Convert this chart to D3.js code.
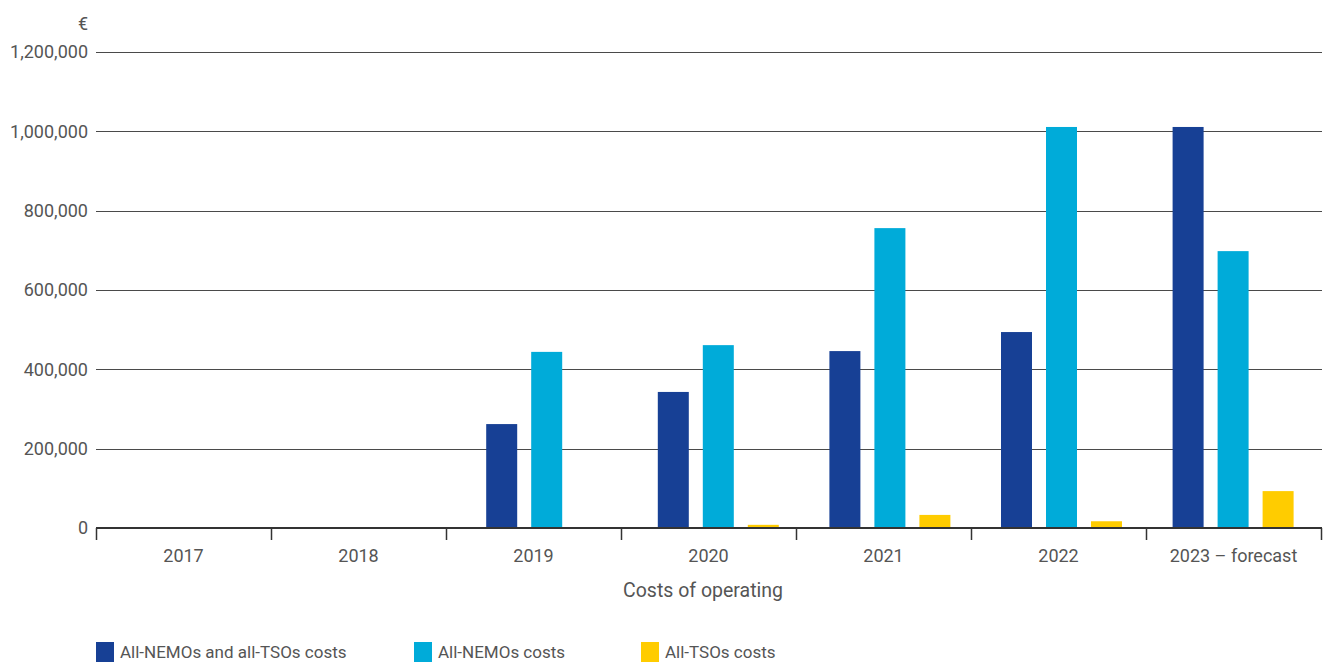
<!DOCTYPE html>
<html>
<head>
<meta charset="utf-8">
<script src="https://cdn.jsdelivr.net/npm/d3@7"></script>
<style>
  html, body { margin: 0; padding: 0; background: #fff; }
  svg { display: block; font-family: Roboto, "Noto Sans", sans-serif; }
</style>
</head>
<body>
<svg id="chart" width="1326" height="662"></svg>
<script>
// Yearly costs of operating, in euro
const years = ["2017", "2018", "2019", "2020", "2021", "2022", "2023 – forecast"];
const seriesNames = ["All-NEMOs and all-TSOs costs", "All-NEMOs costs", "All-TSOs costs"];
const jointCosts = [0, 0, 262000, 343000, 446000, 494000, 1011000];
const nemoCosts  = [0, 0, 444000, 461000, 756000, 1011000, 698000];
const tsoCosts   = [0, 0, 0, 8000, 33000, 17000, 93000];
const yTicks = [0, 200000, 400000, 600000, 800000, 1000000, 1200000];
const colors = ["#174095", "#00abd9", "#ffcc00"];

const svg = d3.select("#chart");
const margin = { left: 96, right: 1322, top: 52, bottom: 528 };

const x = d3.scaleBand().domain(years).range([margin.left, 1321]).padding(0);
// bar groups sit on their own slightly narrower band
const xGroup = d3.scaleBand().domain(years).range([143, 143 + 7 * 171.6 - 50.6]).paddingInner(50.6 / 171.6).paddingOuter(0);
const xInner = d3.scaleBand().domain(seriesNames).range([0, xGroup.bandwidth()]).paddingInner(14 / 45);
const y = d3.scaleLinear().domain([0, 1200000]).range([margin.bottom, margin.top]);

const fmt = d3.format(",");

// horizontal gridlines
svg.append("g")
  .selectAll("line")
  .data(yTicks.filter(d => d > 0))
  .join("line")
  .attr("x1", margin.left).attr("x2", margin.right)
  .attr("y1", d => Math.round(y(d)) + 0.5).attr("y2", d => Math.round(y(d)) + 0.5)
  .attr("stroke", "#4a4a4a").attr("stroke-width", 1);

// y tick labels
svg.append("g")
  .selectAll("text")
  .data(yTicks)
  .join("text")
  .attr("x", 88).attr("y", d => y(d))
  .attr("dy", "0.35em")
  .attr("text-anchor", "end")
  .attr("fill", "#555")
  .style("font-size", "18px")
  .text(d => fmt(d));

svg.append("text")
  .attr("x", 88).attr("y", 24).attr("dy", "0.35em")
  .attr("text-anchor", "end").attr("fill", "#555")
  .style("font-size", "18px")
  .text("€");

// bars
const rows = years.map((yr, i) => ({ year: yr, values: [jointCosts[i], nemoCosts[i], tsoCosts[i]] }));
const groups = svg.append("g").selectAll("g")
  .data(rows).join("g")
  .attr("transform", d => `translate(${xGroup(d.year)},0)`);
groups.selectAll("rect")
  .data(d => d.values.map((v, k) => ({ name: seriesNames[k], value: v, k })))
  .join("rect")
  .filter(d => d.value > 0)
  .attr("x", d => xInner(d.name))
  .attr("width", xInner.bandwidth())
  .attr("y", d => y(d.value))
  .attr("height", d => y(0) - y(d.value))
  .attr("fill", d => colors[d.k]);

// x axis
const xAxis = svg.append("g").attr("transform", `translate(0,${margin.bottom})`);
xAxis.append("line")
  .attr("x1", margin.left).attr("x2", margin.right)
  .attr("y1", 0).attr("y2", 0)
  .attr("stroke", "#333").attr("stroke-width", 2);
const tickPos = years.map(d => x(d)).concat([x.range()[1]]);
xAxis.selectAll("line.tick")
  .data(tickPos).join("line").attr("class", "tick")
  .attr("x1", d => Math.round(d) + 0.5).attr("x2", d => Math.round(d) + 0.5)
  .attr("y1", 0).attr("y2", 12)
  .attr("stroke", "#333").attr("stroke-width", 1.5);
xAxis.selectAll("text")
  .data(years).join("text")
  .attr("x", d => x(d) + x.bandwidth() / 2)
  .attr("y", 28).attr("dy", "0.35em")
  .attr("text-anchor", "middle").attr("fill", "#555")
  .style("font-size", "18px")
  .text(d => d);

svg.append("text")
  .attr("x", 703).attr("y", 590).attr("dy", "0.35em")
  .attr("text-anchor", "middle").attr("fill", "#555")
  .style("font-size", "19.5px")
  .text("Costs of operating");

// legend
const legendX = [96, 414, 641];
const legend = svg.append("g").selectAll("g")
  .data(seriesNames).join("g")
  .attr("transform", (d, i) => `translate(${legendX[i]},642)`);
legend.append("rect")
  .attr("width", 18).attr("height", 20)
  .attr("fill", (d, i) => colors[i]);
legend.append("text")
  .attr("x", 24).attr("y", 10).attr("dy", "0.35em")
  .attr("fill", "#555")
  .style("font-size", "17px")
  .text(d => d);
</script>
</body>
</html>
